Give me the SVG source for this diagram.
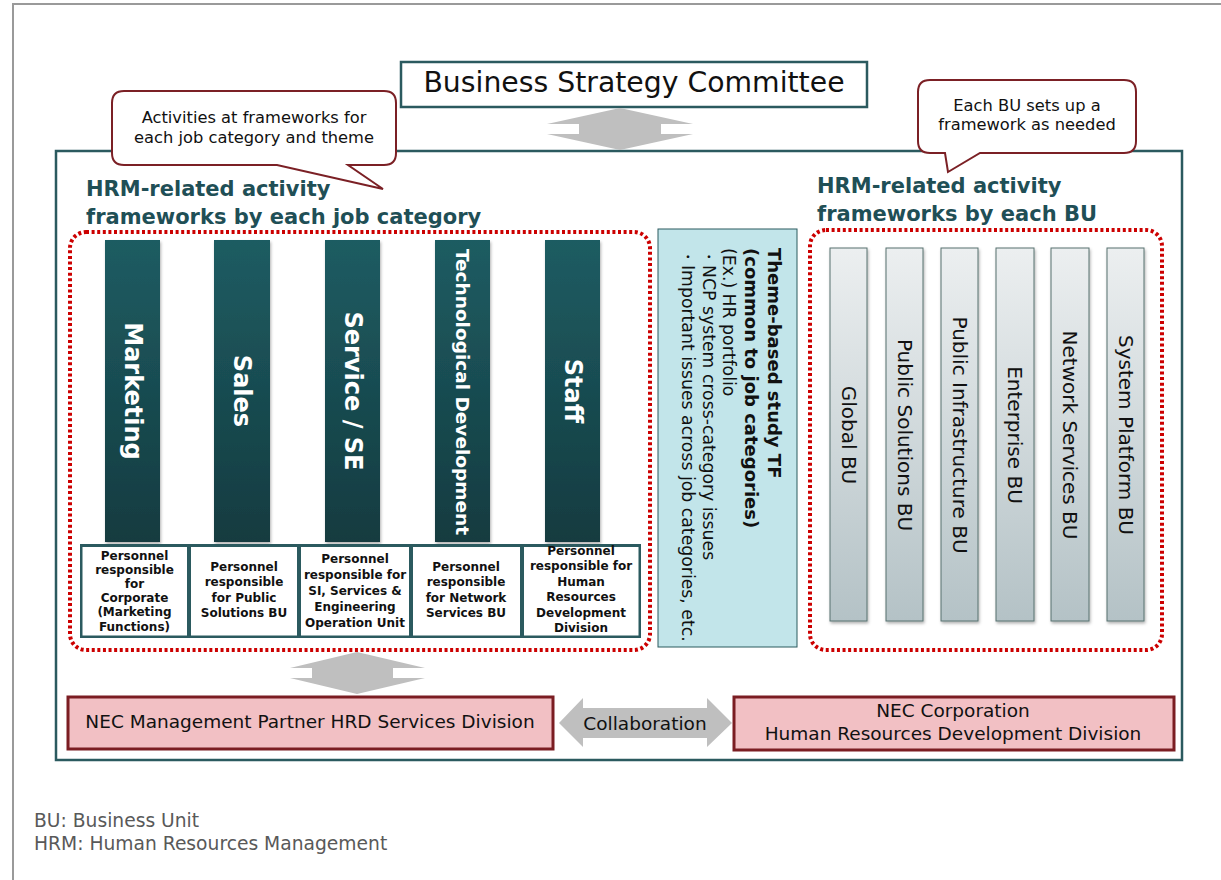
<svg xmlns="http://www.w3.org/2000/svg" width="1221" height="880" viewBox="0 0 1221 880">
<defs>
<linearGradient id="gTeal" x1="0" y1="0" x2="0" y2="1">
<stop offset="0" stop-color="#1f5c62"/>
<stop offset="1" stop-color="#123b40"/>
</linearGradient>
<linearGradient id="gGray" x1="0" y1="0" x2="0" y2="1">
<stop offset="0" stop-color="#eceff0"/>
<stop offset="1" stop-color="#b4c2c6"/>
</linearGradient>
<filter id="sh" x="-20%" y="-5%" width="140%" height="110%">
<feDropShadow dx="1" dy="2" stdDeviation="1.5" flood-color="#000" flood-opacity="0.3"/>
</filter>
</defs>
<style>
text{font-family:"DejaVu Sans","Liberation Sans",sans-serif;fill:#111}
.frame{fill:none;stroke:#9a9a9a;stroke-width:2}
.teal{fill:#fff;stroke:#2b5a5f;stroke-width:2.5}
.callout{fill:#fff;stroke:#7b2025;stroke-width:2}
.co{font-size:16.3px;text-anchor:middle}
.head{font-size:21px;font-weight:bold;fill:#1f4f56}
.dots{fill:none;stroke:#cc0000;stroke-width:4;stroke-dasharray:3 2.6}
.bar{fill:url(#gTeal)}
.bartxt{fill:#fff;font-weight:bold;font-size:24px;text-anchor:middle;dominant-baseline:central}
.bartxt.small{font-size:18.5px}
.cell{fill:#fff}
.ct{font-size:12px;font-weight:bold;text-anchor:middle}
.bu{fill:url(#gGray);stroke:#56716f;stroke-width:1}
.butxt{font-size:20px;text-anchor:middle;dominant-baseline:central}
.theme{fill:#c2e5ea;stroke:#2b5a5f;stroke-width:1}
.tb{font-size:18px;font-weight:bold;dominant-baseline:central}
.tr{font-size:17.3px;dominant-baseline:central}
.pink{fill:#f2c0c4;stroke:#7b1d22;stroke-width:3}
.pt{font-size:18.5px;text-anchor:middle}
.arrow{fill:#bfbfbf}
.foot{font-size:18.7px;fill:#595959}
</style>

<path class="frame" d="M13,880 V4 H1221"/>

<g id="main-box">
<rect class="teal" x="56" y="151" width="1126" height="609"/>
</g>

<g id="committee">
<rect class="teal" x="401" y="62" width="466" height="45"/>
<text x="634" y="92" font-size="28.3" text-anchor="middle">Business Strategy Committee</text>
</g>

<g id="connectors">
<polygon class="arrow" points="620,108 693,124 661,124 661,134 693,134 620,150 547,134 579,134 579,124 547,124"/>
<polygon class="arrow" points="357,652 425,668 393,668 393,678 425,678 357,694 290,678 312,678 312,668 290,668"/>
<polygon class="arrow" points="559,723 583,698 583,708 707,708 707,698 732,723 707,747 707,738 583,738 583,747"/>
<text x="645" y="730" font-size="18.5" text-anchor="middle">Collaboration</text>
</g>

<g id="callout-left">
<path class="callout" d="M124,91 H384 Q396,91 396,103 V153 Q396,165 384,165 H348 L383,189 L277,165 H124 Q112,165 112,153 V103 Q112,91 124,91 Z"/>
<text class="co" x="254" y="123">Activities at frameworks for</text>
<text class="co" x="254" y="143">each job category and theme</text>
</g>

<g id="callout-right">
<path class="callout" d="M930,80 H1124 Q1136,80 1136,92 V141 Q1136,153 1124,153 H980 L948,172 L945,153 H930 Q918,153 918,141 V92 Q918,80 930,80 Z"/>
<text class="co" x="1027" y="111">Each BU sets up a</text>
<text class="co" x="1027" y="130">framework as needed</text>
</g>

<g id="heading-left">
<text class="head" x="86" y="196">HRM-related activity</text>
<text class="head" x="86" y="224">frameworks by each job category</text>
</g>
<g id="heading-right">
<text class="head" x="817" y="193">HRM-related activity</text>
<text class="head" x="817" y="221">frameworks by each BU</text>
</g>

<g id="job-frame">
<rect class="dots" x="70" y="232" width="580" height="418" rx="16"/>
</g>
<g id="bu-frame">
<rect class="dots" x="810" y="230" width="352" height="420" rx="16"/>
</g>

<g id="job-marketing">
<rect class="bar" x="105" y="240" width="55" height="302" filter="url(#sh)"/>
<text class="bartxt" x="132.5" y="391" transform="rotate(90 132.5 391)">Marketing</text>
</g>
<g id="job-sales">
<rect class="bar" x="214" y="240" width="56" height="302" filter="url(#sh)"/>
<text class="bartxt" x="242" y="391" transform="rotate(90 242 391)">Sales</text>
</g>
<g id="job-service">
<rect class="bar" x="325" y="240" width="55" height="302" filter="url(#sh)"/>
<text class="bartxt" x="352.5" y="391" transform="rotate(90 352.5 391)">Service / SE</text>
</g>
<g id="job-tech">
<rect class="bar" x="435" y="240" width="55" height="302" filter="url(#sh)"/>
<text class="bartxt small" x="462.5" y="392" transform="rotate(90 462.5 392)">Technological Development</text>
</g>
<g id="job-staff">
<rect class="bar" x="545" y="240" width="55" height="302" filter="url(#sh)"/>
<text class="bartxt" x="572.5" y="391" transform="rotate(90 572.5 391)">Staff</text>
</g>

<g id="personnel-row">
<rect x="80" y="544" width="561" height="94" fill="#2b5a5f"/>
<rect class="cell" x="82.5" y="547" width="104.5" height="88.5"/>
<rect class="cell" x="191" y="547" width="106" height="88.5"/>
<rect class="cell" x="301" y="547" width="108" height="88.5"/>
<rect class="cell" x="413" y="547" width="107" height="88.5"/>
<rect class="cell" x="524" y="547" width="114.5" height="88.5"/>
</g>
<g id="personnel-1">
<text class="ct" x="134.5" y="559.5">Personnel</text>
<text class="ct" x="134.5" y="573.7">responsible</text>
<text class="ct" x="134.5" y="587.9">for</text>
<text class="ct" x="134.5" y="602.1">Corporate</text>
<text class="ct" x="134.5" y="616.3">(Marketing</text>
<text class="ct" x="134.5" y="630.5">Functions)</text>
</g>
<g id="personnel-2">
<text class="ct" x="244" y="570.5">Personnel</text>
<text class="ct" x="244" y="586">responsible</text>
<text class="ct" x="244" y="601.5">for Public</text>
<text class="ct" x="244" y="617">Solutions BU</text>
</g>
<g id="personnel-3">
<text class="ct" x="355" y="562.5">Personnel</text>
<text class="ct" x="355" y="578.5">responsible for</text>
<text class="ct" x="355" y="594.5">SI, Services &amp;</text>
<text class="ct" x="355" y="610.5">Engineering</text>
<text class="ct" x="355" y="626.5">Operation Unit</text>
</g>
<g id="personnel-4">
<text class="ct" x="466" y="570.5">Personnel</text>
<text class="ct" x="466" y="586">responsible</text>
<text class="ct" x="466" y="601.5">for Network</text>
<text class="ct" x="466" y="617">Services BU</text>
</g>
<g id="personnel-5">
<text class="ct" x="581" y="554.5">Personnel</text>
<text class="ct" x="581" y="570">responsible for</text>
<text class="ct" x="581" y="585.5">Human</text>
<text class="ct" x="581" y="601">Resources</text>
<text class="ct" x="581" y="616.5">Development</text>
<text class="ct" x="581" y="632">Division</text>
</g>

<g id="theme-tf">
<rect class="theme" x="658" y="229" width="139" height="418"/>
<text class="tb" x="774" y="248" transform="rotate(90 774 248)">Theme-based study TF</text>
<text class="tb" x="751" y="248" transform="rotate(90 751 248)">(common to job categories)</text>
<text class="tr" x="729" y="248" transform="rotate(90 729 248)">(Ex.) HR portfolio</text>
<text class="tr" x="709" y="248" transform="rotate(90 709 248)">・NCP system cross-category issues</text>
<text class="tr" x="688" y="248" transform="rotate(90 688 248)">・Important issues across job categories, etc.</text>
</g>

<g id="bu-global">
<rect class="bu" x="830" y="248" width="37" height="373" filter="url(#sh)"/>
<text class="butxt" x="848.5" y="435" transform="rotate(90 848.5 435)">Global BU</text>
</g>
<g id="bu-public-solutions">
<rect class="bu" x="886" y="248" width="37" height="373" filter="url(#sh)"/>
<text class="butxt" x="904.5" y="435" transform="rotate(90 904.5 435)">Public Solutions BU</text>
</g>
<g id="bu-public-infra">
<rect class="bu" x="941" y="248" width="37" height="373" filter="url(#sh)"/>
<text class="butxt" x="959.5" y="435" transform="rotate(90 959.5 435)">Public Infrastructure BU</text>
</g>
<g id="bu-enterprise">
<rect class="bu" x="996" y="248" width="38" height="373" filter="url(#sh)"/>
<text class="butxt" x="1015" y="435" transform="rotate(90 1015 435)">Enterprise BU</text>
</g>
<g id="bu-network">
<rect class="bu" x="1051" y="248" width="38" height="373" filter="url(#sh)"/>
<text class="butxt" x="1070" y="435" transform="rotate(90 1070 435)">Network Services BU</text>
</g>
<g id="bu-platform">
<rect class="bu" x="1107" y="248" width="37" height="373" filter="url(#sh)"/>
<text class="butxt" x="1125.5" y="435" transform="rotate(90 1125.5 435)">System Platform BU</text>
</g>

<g id="nec-mp">
<rect class="pink" x="68" y="697" width="485" height="52"/>
<text class="pt" x="310" y="728">NEC Management Partner HRD Services Division</text>
</g>
<g id="nec-corp">
<rect class="pink" x="734" y="697" width="440" height="53"/>
<text class="pt" x="953" y="717">NEC Corporation</text>
<text class="pt" x="953" y="740">Human Resources Development Division</text>
</g>

<g id="footnote">
<text class="foot" x="34" y="827">BU: Business Unit</text>
<text class="foot" x="34" y="850">HRM: Human Resources Management</text>
</g>
</svg>
